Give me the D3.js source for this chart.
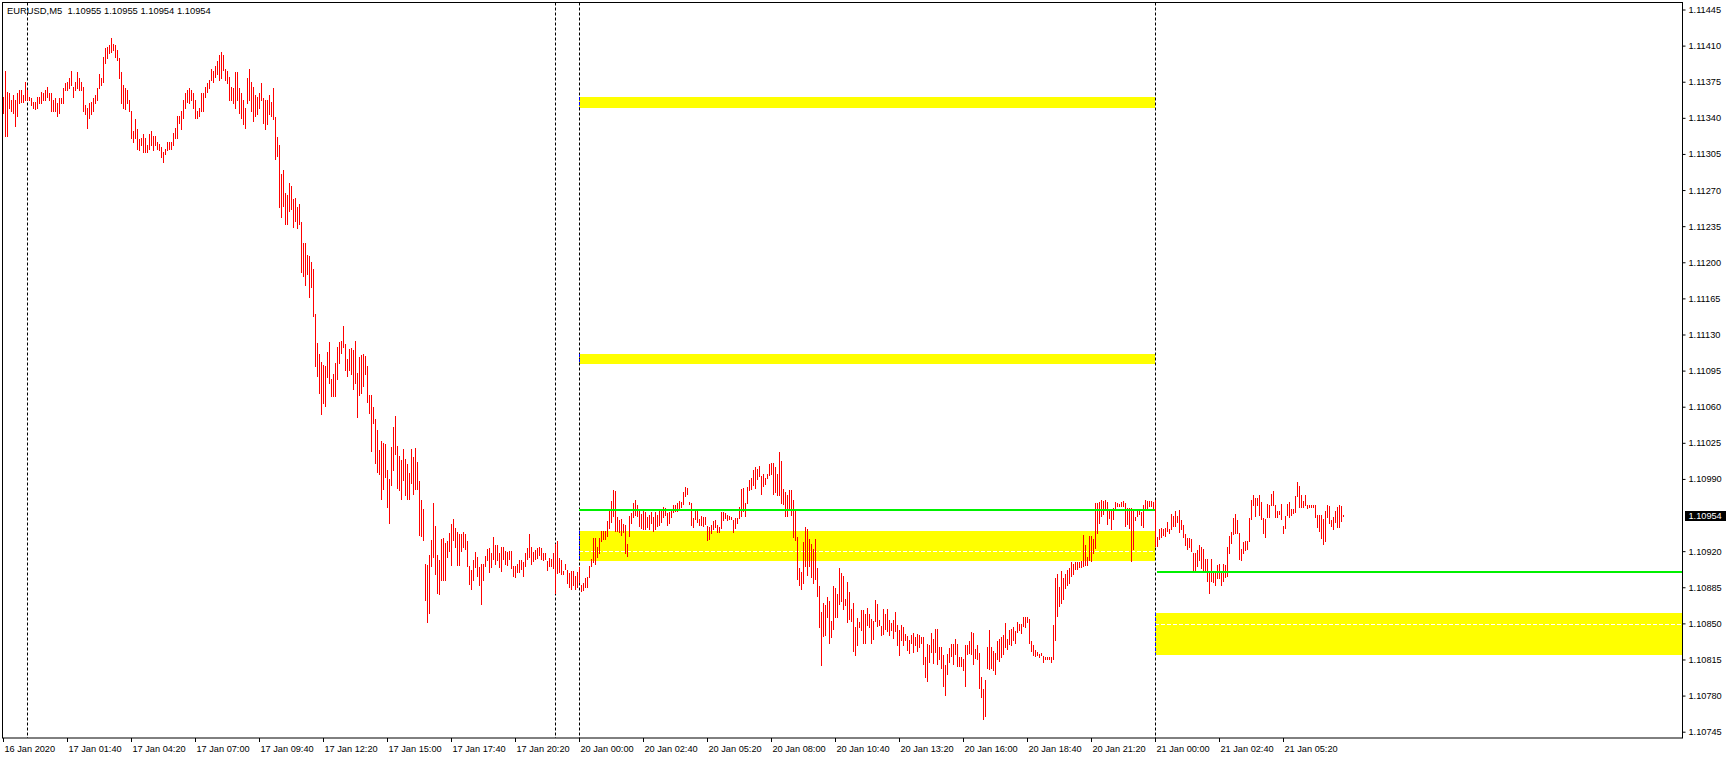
<!DOCTYPE html>
<html><head><meta charset="utf-8">
<script src="https://cdn.jsdelivr.net/npm/d3@7"></script>
<style>
html,body{margin:0;padding:0;background:#fff;overflow:hidden}
text{font-family:"Liberation Sans",Arial,sans-serif;font-size:9px}
</style>
</head><body>
<svg id="c" width="1729" height="759"></svg>
<script>
// EURUSD M5 bars. Values in points above 1.10000 (price = 1.10000 + pts / 100000)
const highPts = [
1360,1385,1365,1364,1357,1362,1357,1364,1367,1367,
1362,1375,1367,1360,1359,1355,1355,1360,1360,1365,
1364,1367,1370,1364,1364,1357,1359,1354,1359,1359,
1369,1374,1375,1379,1385,1370,1375,1384,1379,1375,
1370,1352,1350,1354,1355,1359,1362,1369,1382,1379,
1399,1408,1409,1411,1417,1412,1411,1406,1398,1384,
1372,1369,1367,1357,1347,1327,1339,1329,1319,1320,
1324,1320,1314,1324,1327,1322,1322,1317,1315,1312,
1307,1310,1317,1317,1317,1325,1330,1342,1342,1347,
1357,1364,1367,1369,1367,1364,1357,1347,1350,1364,
1364,1370,1374,1377,1387,1385,1390,1395,1401,1404,
1401,1387,1385,1380,1370,1369,1384,1384,1369,1364,
1357,1350,1379,1387,1375,1370,1362,1360,1364,1374,
1359,1357,1357,1362,1355,1369,
1341,1321,1314,1286,1289,1267,1265,1277,1274,1261,
1262,1254,1256,1239,1219,1219,1207,1206,1200,1193,
1150,1122,1111,1103,1100,1099,1113,1123,1087,1092,
1102,1118,1123,1124,1138,1121,1106,1116,1117,1115,
1124,1093,1108,1110,1111,1109,1099,1071,1071,1060,
1048,1037,1018,1027,1025,1024,999,990,1021,1040,
1051,1022,1012,1008,1019,1009,1004,996,1019,1011,
1020,1006,988,970,961,908,907,916,931,967,
944,916,911,932,933,928,930,938,946,951,
942,939,937,937,939,937,930,906,902,911,
919,914,905,908,908,915,922,923,918,934,
926,926,918,924,924,920,919,920,920,906,
906,908,911,911,909,918,923,937,924,919,
921,923,924,923,918,918,910,913,912,918,
927,930,913,911,901,908,902,899,901,901,
896,900,905,887,889,894,895,906,912,933,
933,924,933,940,940,940,949,959,969,979,
978,953,950,951,946,945,927,954,957,967,
970,965,959,956,959,958,953,955,958,953,
958,955,959,959,963,962,957,958,961,965,
965,967,969,968,977,982,981,968,967,952,
961,959,951,954,953,953,944,943,945,949,
950,945,943,958,958,957,955,954,953,950,
952,952,963,980,981,967,982,989,991,999,
1002,1000,1003,993,995,991,995,1004,1005,1005,
1002,995,1016,1007,980,977,974,979,979,970,
961,934,904,900,929,943,941,932,927,922,
932,904,886,861,870,868,876,872,852,886,
884,878,904,899,896,874,890,880,864,870,
846,855,851,863,863,859,865,859,854,852,
873,869,853,847,864,859,864,853,850,853,
861,848,844,848,846,840,838,834,839,841,
837,840,839,837,837,817,830,829,841,835,
845,845,827,827,819,810,820,826,830,830,
835,830,817,817,815,829,829,833,842,841,
825,829,821,798,786,795,827,844,827,823,
821,833,835,837,839,850,835,844,845,846,
843,851,849,849,856,856,856,854,833,829,
824,822,820,821,818,817,817,817,817,848,
894,898,885,901,894,898,902,904,909,908,
909,909,909,910,936,926,914,935,935,932,
967,967,968,970,969,970,968,961,960,962,
968,967,966,968,969,967,962,962,962,960,
953,960,959,958,965,970,969,969,969,968,
970,934,941,942,941,942,948,941,956,954,
959,954,960,950,945,937,933,933,932,918,
918,921,926,924,922,912,912,901,912,901,
901,907,908,901,908,907,924,935,939,952,
956,950,938,922,929,930,930,952,970,974,
972,972,974,968,952,951,966,965,975,978,
965,959,959,966,944,954,966,968,961,961,
973,987,983,974,969,974,965,965,965,965,
965,955,955,955,951,959,965,964,950,953,
959,963,965,964,955
];
const lowPts = [
1345,1322,1322,1350,1347,1345,1332,1342,1354,1355,
1355,1357,1357,1357,1352,1350,1349,1350,1354,1354,
1357,1357,1360,1357,1347,1347,1347,1342,1345,1354,
1354,1367,1367,1369,1372,1360,1367,1369,1367,1367,
1347,1344,1330,1340,1344,1347,1354,1357,1369,1372,
1375,1393,1398,1403,1404,1406,1399,1396,1379,1354,
1350,1349,1354,1347,1320,1317,1320,1310,1309,1314,
1307,1307,1307,1310,1314,1309,1314,1310,1309,1302,
1297,1305,1309,1310,1310,1314,1320,1320,1335,1329,
1340,1350,1355,1354,1357,1350,1340,1340,1342,1347,
1347,1360,1365,1369,1377,1375,1380,1382,1377,1379,
1386,1377,1374,1357,1357,1354,1350,1357,1345,1340,
1334,1330,1354,1357,1347,1337,1342,1344,1350,1357,
1335,1329,1334,1344,1342,1339,
1300,1303,1254,1244,1255,1237,1237,1250,1252,1234,
1240,1233,1237,1191,1187,1178,1189,1166,1176,1148,
1099,1090,1073,1053,1064,1061,1089,1083,1070,1070,
1070,1087,1102,1112,1118,1096,1090,1096,1092,1077,
1083,1050,1071,1073,1080,1092,1065,1054,1017,1044,
1005,997,995,971,980,992,963,947,984,999,
1014,981,979,971,989,974,971,971,986,975,
980,980,936,935,931,873,851,860,906,914,
898,879,878,892,892,892,914,920,907,931,
924,907,907,920,924,922,906,888,883,892,
905,896,887,869,892,906,911,900,905,912,
908,911,905,901,912,908,907,912,904,896,
895,900,900,903,896,906,912,914,908,910,
912,913,916,912,911,912,902,906,906,904,
879,899,900,898,898,903,889,885,883,887,
883,885,890,881,882,885,885,895,906,909,
908,914,918,930,932,932,935,942,948,954,
940,940,939,936,939,918,915,935,947,953,
955,954,944,942,941,941,943,941,947,940,
941,944,945,948,953,955,945,947,953,958,
959,959,961,963,966,973,975,966,945,943,
951,948,945,945,944,946,931,932,938,941,
943,939,939,942,950,952,950,951,951,939,
942,947,952,954,959,954,967,979,980,984,
981,990,993,975,983,985,991,994,995,975,
977,974,974,967,966,954,954,960,955,934,
931,893,887,883,889,906,897,906,895,889,
893,877,846,810,838,839,856,831,837,845,
856,856,869,872,864,868,851,854,852,823,
819,829,846,844,831,831,848,846,831,835,
852,847,848,839,840,845,843,839,844,836,
843,829,819,834,829,834,824,821,831,822,
829,823,827,831,811,798,794,813,822,812,
822,811,815,807,789,781,801,813,818,811,
820,809,809,809,805,789,820,821,820,811,
816,815,787,779,757,760,807,806,807,805,
801,815,814,817,820,827,825,830,829,834,
831,842,844,841,847,846,851,831,823,819,
818,819,817,819,813,815,815,815,813,815,
834,857,867,870,874,884,887,889,896,898,
903,903,905,905,906,907,907,911,910,918,
923,938,947,954,956,961,946,952,941,951,
961,964,964,964,964,944,946,942,910,922,
950,954,956,945,943,962,962,964,964,962,
925,925,932,934,936,935,940,938,941,944,
944,948,939,941,934,926,922,924,920,902,
902,906,911,904,902,902,891,879,891,890,
887,894,894,887,891,895,896,918,928,937,
938,938,912,911,918,921,922,930,951,965,
954,965,955,951,938,934,953,953,965,965,
953,953,956,951,938,942,955,953,955,957,
958,973,963,963,963,965,962,963,963,963,
953,943,940,933,927,930,953,947,944,941,
948,943,943,949,954
];

const priceTicks = [1.11445,1.11410,1.11375,1.11340,1.11305,1.11270,1.11235,1.11200,1.11165,1.11130,
  1.11095,1.11060,1.11025,1.10990,1.10920,1.10885,1.10850,1.10815,1.10780,1.10745];
const timeLabels = ["16 Jan 2020","17 Jan 01:40","17 Jan 04:20","17 Jan 07:00","17 Jan 09:40","17 Jan 12:20",
  "17 Jan 15:00","17 Jan 17:40","17 Jan 20:20","20 Jan 00:00","20 Jan 02:40","20 Jan 05:20","20 Jan 08:00",
  "20 Jan 10:40","20 Jan 13:20","20 Jan 16:00","20 Jan 18:40","20 Jan 21:20","21 Jan 00:00","21 Jan 02:40","21 Jan 05:20"];
const barsPerLabel = 32;
const separatorBars = [12, 276, 288, 576];

// zones (rectangles): top / bottom price, optional mid level, from-bar, to-bar (null = right edge)
const zoneTop    = [1.11360, 1.11111, 1.10940, 1.10860];
const zoneBottom = [1.11350, 1.11101, 1.10910, 1.10819];
const zoneMid    = [null, null, 1.10920, 1.10849];
const zoneFrom   = [288, 288, 288, 576];
const zoneTo     = [576, 576, 576, null];

// horizontal levels
const levelPrice = [1.10960, 1.10900];
const levelFrom  = [288, 577];
const levelTo    = [576, null];

const symbol = "EURUSD,M5";
const lastOHLC = [1.10955, 1.10955, 1.10954, 1.10954];
const currentPrice = 1.10954;

const toPrice = p => 1.1 + p / 100000;
const FONT = '"Liberation Sans",Arial,sans-serif';

const svg = d3.select("#c");
const W = 1729, H = 759;
const plot = {left: 2.5, top: 2.5, right: 1682.5, bottom: 738};

const x = d3.scaleLinear().domain([0, highPts.length - 1]).range([3, 3 + 2 * (highPts.length - 1)]);
const y = d3.scaleLinear().domain([1.10745, 1.11445]).range([731.7, 9.5]);
const xEdge = v => v === null ? plot.right : x(v);

svg.append("rect").attr("width", W).attr("height", H).attr("fill", "#fff");

const g = svg.append("g");

// zones
const zones = zoneTop.map((t, i) => ({t, b: zoneBottom[i], m: zoneMid[i], f: zoneFrom[i], e: zoneTo[i]}));
g.selectAll("rect.zone").data(zones).join("rect").attr("class", "zone")
  .attr("x", d => x(d.f)).attr("width", d => xEdge(d.e) - x(d.f))
  .attr("y", d => Math.round(y(d.t))).attr("height", d => Math.round(y(d.b)) - Math.round(y(d.t)))
  .attr("fill", "#ffff00");
g.selectAll("line.zmid").data(zones.filter(d => d.m !== null)).join("line").attr("class", "zmid")
  .attr("x1", d => x(d.f)).attr("x2", d => xEdge(d.e))
  .attr("y1", d => Math.round(y(d.m)) + 0.5).attr("y2", d => Math.round(y(d.m)) + 0.5)
  .attr("stroke", "#fff").attr("stroke-width", 1).attr("stroke-dasharray", "4,2");

// period separators
g.selectAll("line.sep").data(separatorBars).join("line").attr("class", "sep")
  .attr("x1", d => x(d) + 0.5).attr("x2", d => x(d) + 0.5)
  .attr("y1", plot.top).attr("y2", plot.bottom)
  .attr("stroke", "#000").attr("stroke-width", 1).attr("stroke-dasharray", "3,2");
// separator segments crossing zone left edges appear blue
const crossings = [];
zones.forEach(z => separatorBars.forEach(s => { if (s === z.f) crossings.push({s, z}); }));
g.selectAll("line.sepb").data(crossings).join("line").attr("class", "sepb")
  .attr("x1", d => x(d.s) + 0.5).attr("x2", d => x(d.s) + 0.5)
  .attr("y1", d => Math.round(y(d.z.t))).attr("y2", d => Math.round(y(d.z.b)))
  .attr("stroke", "#0000ff").attr("stroke-width", 1).attr("stroke-dasharray", "3,2");

// bars
const bars = highPts.map((h, i) => ({i, h: toPrice(h), l: toPrice(lowPts[i])}));
g.selectAll("rect.bar").data(bars).join("rect").attr("class", "bar")
  .attr("x", d => x(d.i)).attr("width", 1)
  .attr("y", d => Math.round(y(d.h)))
  .attr("height", d => Math.max(1, Math.round(y(d.l)) - Math.round(y(d.h)) + 1))
  .attr("fill", "#ff0000").attr("shape-rendering", "crispEdges");

// levels
const levels = levelPrice.map((p, i) => ({p, f: levelFrom[i], e: levelTo[i]}));
g.selectAll("line.lvl").data(levels).join("line").attr("class", "lvl")
  .attr("x1", d => x(d.f)).attr("x2", d => xEdge(d.e))
  .attr("y1", d => Math.round(y(d.p))).attr("y2", d => Math.round(y(d.p)))
  .attr("stroke", "#00f000").attr("stroke-width", 2);

// frame
svg.append("rect").attr("x", plot.left).attr("y", plot.top)
  .attr("width", plot.right - plot.left).attr("height", plot.bottom - plot.top)
  .attr("fill", "none").attr("stroke", "#000").attr("stroke-width", 1);

// price axis
const yAxis = d3.axisRight(y).tickValues(priceTicks).tickSize(3).tickPadding(3).tickFormat(d3.format(".5f"));
const ya = svg.append("g").attr("transform", `translate(${plot.right},0)`).call(yAxis);
ya.select(".domain").remove();
ya.selectAll("text").attr("fill", "#000").style("font-size", "9.2px").style("font-family", FONT);
ya.selectAll("line").attr("stroke", "#000");

// current price box
const cp = svg.append("g");
cp.append("rect").attr("x", 1685).attr("y", Math.round(y(currentPrice)) - 5).attr("width", 41).attr("height", 10).attr("fill", "#000");
cp.append("text").attr("x", 1688.5).attr("y", y(currentPrice)).attr("dy", "0.35em").attr("fill", "#fff")
  .style("font-size", "9.2px").text(d3.format(".5f")(currentPrice));

// time axis
const tIdx = timeLabels.map((t, k) => k * barsPerLabel);
const xAxis = d3.axisBottom(x).tickValues(tIdx).tickSize(4).tickPadding(2).tickFormat((d, k) => timeLabels[k]);
const xa = svg.append("g").attr("transform", `translate(0,${plot.bottom})`).call(xAxis);
xa.select(".domain").remove();
xa.selectAll("line").attr("stroke", "#000");
xa.selectAll("text").attr("text-anchor", "start").attr("x", 1).attr("y", 7).attr("dy", "0.71em")
  .attr("fill", "#000").style("font-size", "9.2px").style("font-family", FONT);

// header
svg.append("text").attr("x", 7).attr("y", 14).attr("fill", "#000").style("white-space", "pre")
  .style("font-size", "9.4px")
  .text(symbol + "  " + lastOHLC.map(d3.format(".5f")).join(" "));
</script>
</body></html>
